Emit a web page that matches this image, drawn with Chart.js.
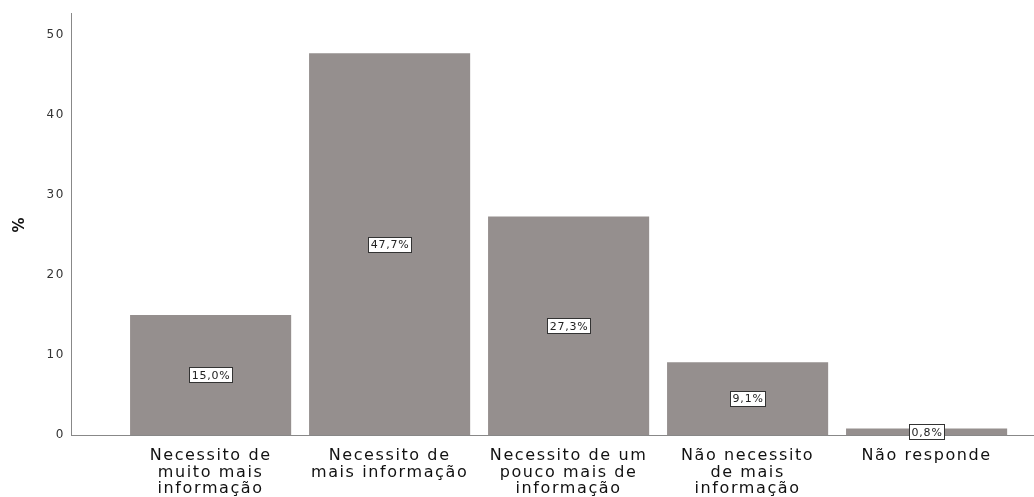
<!DOCTYPE html>
<html>
<head>
<meta charset="utf-8">
<script src="https://cdn.jsdelivr.net/npm/chart.js@4/dist/chart.umd.min.js"></script>
<style>
  body { margin: 0; background: #fff; }
</style>
</head>
<body>
<canvas id="myChart" width="1034" height="497"></canvas>
<script>
let categorias = [
  ["Necessito de", "muito mais", "informação"],
  ["Necessito de", "mais informação"],
  ["Necessito de um", "pouco mais de", "informação"],
  ["Não necessito", "de mais", "informação"],
  ["Não responde"],
];
let valores = [15.0, 47.7, 27.3, 9.1, 0.8];
let etiquetas = ["15,0%", "47,7%", "27,3%", "9,1%", "0,8%"];
let yTicks = [0, 10, 20, 30, 40, 50];

// espaçamento das letras (o original tem texto mais largo)
const espacamento = {
  id: "espacamento",
  beforeDraw(chart) {
    chart.ctx.letterSpacing = "1.6px";
  },
};

// rotulos dentro das barras
const rotulos = {
  id: "rotulos",
  afterDatasetsDraw(chart) {
    const ctx = chart.ctx;
    const meta = chart.getDatasetMeta(0);
    const y = chart.scales.y;
    ctx.save();
    ctx.letterSpacing = "0.8px";
    ctx.font = "11px 'DejaVu Sans'";
    ctx.textAlign = "center";
    ctx.textBaseline = "middle";
    meta.data.forEach((bar, i) => {
      const cy = y.getPixelForValue(valores[i] / 2);
      const txt = etiquetas[i];
      const w = Math.round(ctx.measureText(txt).width + 4);
      const h = 15;
      const bx = Math.round(bar.x - w / 2) + 0.5;
      const by = Math.round(cy - h / 2) + 0.5;
      ctx.fillStyle = "#fff";
      ctx.fillRect(bx, by, w, h);
      ctx.strokeStyle = "#333";
      ctx.lineWidth = 1;
      ctx.strokeRect(bx, by, w, h);
      ctx.fillStyle = "#222";
      ctx.fillText(txt, bar.x + 0.5, cy + 1);
    });
    ctx.restore();
  },
};

const ctx = document.getElementById("myChart").getContext("2d");
let myChart = new Chart(ctx, {
  type: "bar",
  data: {
    datasets: [
      {
        data: valores.map((v, i) => ({ x: i, y: v })),
        backgroundColor: "#958f8e",
        borderWidth: 0,
        barPercentage: 0.9,
        categoryPercentage: 1,
      },
    ],
  },
  options: {
    responsive: false,
    animation: false,
    layout: { padding: { top: 12, right: 0, left: 0, bottom: 0 } },
    plugins: {
      legend: { display: false },
      tooltip: { enabled: false },
    },
    scales: {
      x: {
        type: "linear",
        offset: false,
        min: -0.78,
        max: 4.6,
        grid: { display: false, drawTicks: false, tickLength: 0 },
        border: { color: "#888", width: 1 },
        afterBuildTicks: (s) => {
          s.ticks = categorias.map((c, i) => ({ value: i }));
        },
        afterFit: (s) => {
          s.height = 62;
        },
        ticks: {
          autoSkip: false,
          maxRotation: 0,
          padding: 13,
          color: "#111",
          font: { family: "DejaVu Sans", size: 16, lineHeight: 1.03 },
          callback: (v) => categorias[v],
        },
      },
      y: {
        min: 0,
        max: 52.7,
        grid: { display: false, drawTicks: false, tickLength: 0 },
        border: { color: "#888", width: 1 },
        afterBuildTicks: (s) => {
          s.ticks = yTicks.map((v) => ({ value: v }));
        },
        afterFit: (s) => {
          s.width = 71;
        },
        ticks: {
          padding: 6,
          color: "#333",
          font: { family: "DejaVu Sans", size: 12 },
        },
        title: {
          display: true,
          text: "%",
          color: "#111",
          padding: { top: 11, bottom: 0 },
          font: { family: "DejaVu Sans", size: 15, weight: "bold" },
        },
      },
    },
  },
  plugins: [espacamento, rotulos],
});
</script>
</body>
</html>
